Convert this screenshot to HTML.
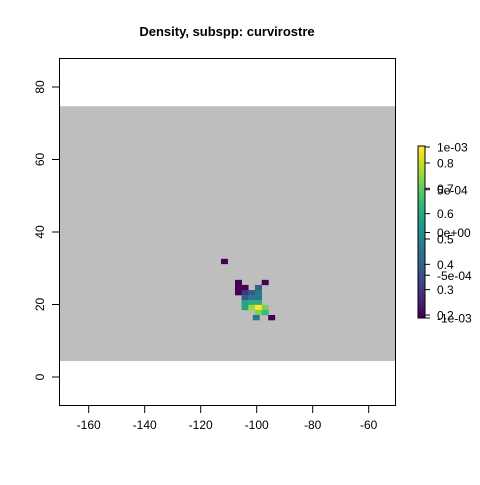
<!DOCTYPE html>
<html><head><meta charset="utf-8"><style>
body{margin:0;background:#fff;}
svg text{font-family:"Liberation Sans",Arial,sans-serif;}
</style></head><body>
<svg id="c" width="480" height="480" xmlns="http://www.w3.org/2000/svg">
<text x="227" y="36" font-size="13" font-weight="bold" text-anchor="middle">Density, subspp: curvirostre</text>
<g id="plot"></g>
</svg>
<script>
const cellLon=[-112.75,-107.75,-98.2,-107.75,-105.4,-100.6,-107.75,-105.4,-103.0,-100.6,-105.4,-103.0,-100.6,-105.4,-103.0,-100.6,-105.4,-103.0,-100.6,-98.2,-100.6,-98.2,-101.4,-95.9];
const cellLat=[32.6,26.8,26.8,25.4,25.4,25.4,24.0,24.0,24.0,24.0,22.6,22.6,22.6,21.2,21.2,21.2,19.9,19.9,19.9,19.9,18.5,18.5,17.1,17.1];
const cellVal=[0.0,0.0,0.0,0.0,0.0,0.3,0.0,0.15,0.28,0.4,0.28,0.4,0.4,0.58,0.62,0.62,0.58,0.85,1.0,0.8,0.8,0.68,0.4,0.0];
const xTicks=[-160,-140,-120,-100,-80,-60];
const yTicks=[0,20,40,60,80];
const legTicksA=[0.2,0.3,0.4,0.5,0.6,0.7,0.8];
const legTicksB=[-1e-3,-5e-4,0,5e-4,1e-3];
const legLabelsB=["-1e-03","-5e-04","0e+00","5e-04","1e-03"];
const NS="http://www.w3.org/2000/svg";
const X=v=>88.7+(v+160)*2.8;
const Y=v=>377-v*3.625;
const CW=2.38*2.8, CH=1.38*3.625;
const vir=["#440154","#482878","#3e4989","#31688e","#26828e","#1f9e89","#35b779","#6ece58","#b5de2b","#fde725"];
function col(t){t=Math.max(0,Math.min(1,t));const f=t*(vir.length-1),i=Math.floor(f),r=f-i;if(i>=vir.length-1)return vir[vir.length-1];
const a=vir[i],b=vir[i+1];const h=(s,k)=>parseInt(s.substr(1+2*k,2),16);let o="#";for(let k=0;k<3;k++){o+=Math.round(h(a,k)+(h(b,k)-h(a,k))*r).toString(16).padStart(2,"0");}return o;}
function mk(t,at){const e=document.createElementNS(NS,t);for(const k in at)e.setAttribute(k,at[k]);return e;}
const g=document.getElementById("plot");
const bg=mk("rect",{x:59.5,y:Y(74.7),width:336,height:Y(4.4)-Y(74.7),fill:"#bebebe"});


g.appendChild(bg);
for(let i=0;i<cellLon.length;i++){
 const r=mk("rect",{x:X(cellLon[i]),y:Y(cellLat[i]),width:CW+0.3,height:CH+0.3,fill:col(cellVal[i])});
 
 
 g.appendChild(r);
}
const box=mk("rect",{x:59.5,y:58.5,width:336,height:347,fill:"none",stroke:"#000","stroke-width":1});


g.appendChild(box);
xTicks.forEach(v=>{
 const l=mk("line",{x1:X(v),x2:X(v),y1:406,y2:413,stroke:"#000"});
 
 
 g.appendChild(l);
 const t=mk("text",{x:X(v),y:429,"font-size":12,"text-anchor":"middle"});t.textContent=v;
 
 
 g.appendChild(t);
});
yTicks.forEach(v=>{
 const l=mk("line",{x1:52,x2:59.5,y1:Y(v),y2:Y(v),stroke:"#000"});
 
 
 g.appendChild(l);
 const t=mk("text",{x:0,y:0,"font-size":12,"text-anchor":"middle",transform:`translate(44,${Y(v)}) rotate(-90)`});t.textContent=v;
 
 
 g.appendChild(t);
});
const LT=146,LB=318,LX=418,LW=7;
for(let i=0;i<60;i++){
 const y0=LB-(i+1)*(LB-LT)/60;
 const r=mk("rect",{x:LX,y:y0,width:LW,height:(LB-LT)/60+0.5,fill:col(i/59)});
 
 
 g.appendChild(r);
}
const lb=mk("rect",{x:LX,y:LT,width:LW,height:LB-LT,fill:"none",stroke:"#000"});


g.appendChild(lb);
const LA=v=>LB-3-(v-0.2)/(0.8-0.2)*(LB-3-163);
const LBy=v=>LB-(v+1e-3)/2e-3*(LB-LT-1);
function ltick(y,txt,name){
 const l=mk("line",{x1:LX+LW,x2:LX+LW+5,y1:y,y2:y,stroke:"#000"});
 
 
 g.appendChild(l);
 const t=mk("text",{x:437,y:y+4.5,"font-size":12});t.textContent=txt;
 
 
 g.appendChild(t);
}
legTicksA.forEach(v=>ltick(LA(v),v.toFixed(1),'legend-label'));
legTicksB.forEach((v,i)=>ltick(LBy(v),legLabelsB[i],'legend-label-density'));
</script>
</body></html>
